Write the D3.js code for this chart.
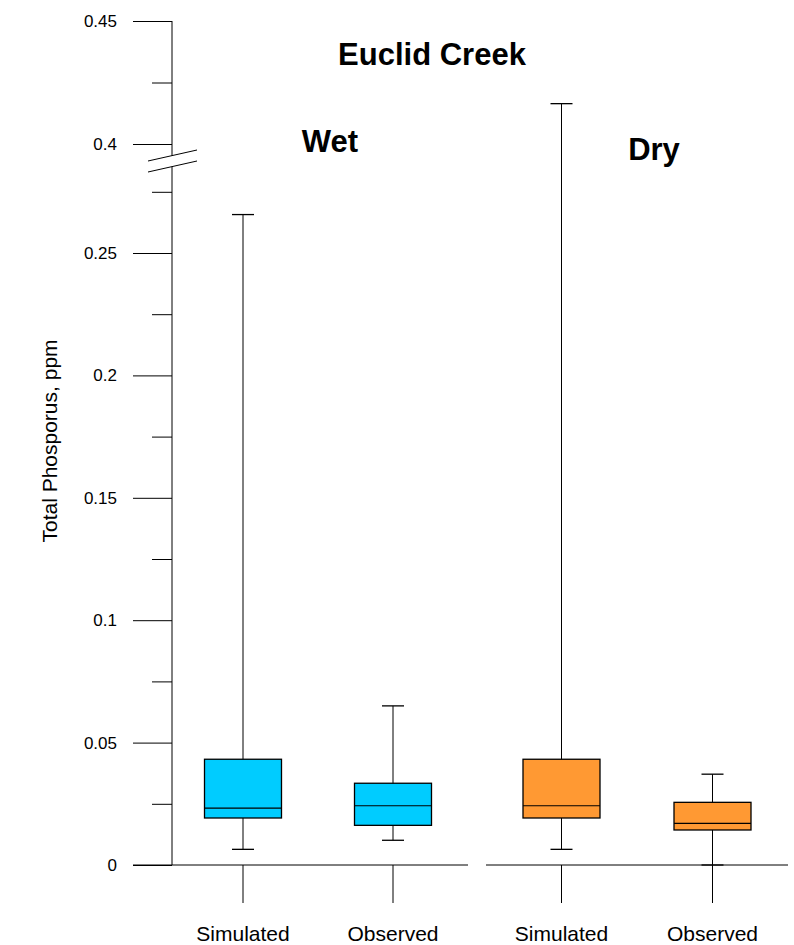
<!DOCTYPE html>
<html>
<head>
  <meta charset="UTF-8">
  <title>Euclid Creek</title>
  <style>
    body { margin: 0; background: #ffffff; }
    svg text { font-family: "Liberation Sans", Arial, sans-serif; fill: #000; }
  </style>
</head>
<body>
<svg></svg>
<script src="https://d3js.org/d3.v7.min.js"></script>
<script>

let width = 794, height = 945;

// data
let groups = ["Wet", "Dry"];
let types = ["Simulated", "Observed"];
let colors = {Wet: "#00ccff", Dry: "#ff9933"};
// box stats per group/type: min, q1, median, q3, max
let boxMin    = [0.0064, 0.0101, 0.0064, 0.0];
let boxQ1     = [0.0192, 0.0162, 0.0192, 0.0143];
let boxMedian = [0.0232, 0.0242, 0.0242, 0.0170];
let boxQ3     = [0.0432, 0.0334, 0.0432, 0.0256];
let boxMax    = [0.2657, 0.0650, 0.4164, 0.0371];

let lowerTicks = [0, 0.05, 0.1, 0.15, 0.2, 0.25];
let lowerMinor = [0.025, 0.075, 0.125, 0.175, 0.225, 0.275];
let upperTicks = [0.4, 0.45];
let upperMinor = [0.425];

let svg = d3.select("svg")
    .attr("width", width)
    .attr("height", height);

// broken y axis: two linear pieces
let breakLow = 0.29, breakHigh = 0.4;
let yLow = d3.scaleLinear().domain([0, breakLow]).range([865, 865 - breakLow * 2448]);
let yHigh = d3.scaleLinear().domain([0.4, 0.45]).range([144, 21]);
let y = v => v <= breakLow ? yLow(v) : yHigh(v);

let axisX = 172;
let panels = {Wet: [168, 468], Dry: [486, 788]};
let panelLine = {Wet: [133, 468], Dry: [486, 788]};

let boxes = [];
groups.forEach((g, gi) => {
  let xb = d3.scaleBand().domain(types).range(panels[g]);
  types.forEach((t, ti) => {
    let i = gi * 2 + ti;
    boxes.push({group: g, type: t, cx: xb(t) + xb.bandwidth() / 2,
      min: boxMin[i], q1: boxQ1[i], med: boxMedian[i], q3: boxQ3[i], max: boxMax[i]});
  });
});

// y axis ticks
function drawTicks(scale, major, minor) {
  svg.append("g")
      .attr("transform", "translate(" + axisX + ",0)")
      .call(d3.axisLeft(scale).tickValues(major).tickSize(39).tickPadding(16)
        .tickFormat(d => d3.format("")(d)))
      .call(g => g.select(".domain").remove())
      .call(g => g.selectAll("line").attr("stroke", "#000"))
      .call(g => g.selectAll("text").attr("font-size", 17).attr("font-family", "Liberation Sans, Arial, sans-serif"));
  svg.append("g")
      .attr("transform", "translate(" + axisX + ",0)")
      .call(d3.axisLeft(scale).tickValues(minor).tickSize(20).tickFormat(""))
      .call(g => g.select(".domain").remove())
      .call(g => g.selectAll("line").attr("stroke", "#000"));
}
drawTicks(yLow, lowerTicks, lowerMinor);
drawTicks(yHigh, upperTicks, upperMinor);

svg.append("line")
    .attr("x1", axisX).attr("x2", axisX)
    .attr("y1", y(0.45)).attr("y2", y(0))
    .attr("stroke", "#000");

// axis break marks
svg.append("polygon")
    .attr("points", "148,161 197,150 197,161 148,172")
    .attr("fill", "#fff");
[[148, 161, 197, 150], [148, 172, 197, 161]].forEach(p => {
  svg.append("line")
      .attr("x1", p[0]).attr("y1", p[1]).attr("x2", p[2]).attr("y2", p[3])
      .attr("stroke", "#000");
});

// x axis lines per panel
groups.forEach(g => {
  svg.append("line")
      .attr("x1", panelLine[g][0]).attr("x2", panelLine[g][1])
      .attr("y1", y(0)).attr("y2", y(0))
      .attr("stroke", "#000");
});

let boxW = 77, capW = 22;

let bx = svg.append("g").selectAll("g")
    .data(boxes)
    .enter()
    .append("g");

// tick below axis
bx.append("line")
    .attr("x1", d => d.cx).attr("x2", d => d.cx)
    .attr("y1", y(0)).attr("y2", y(0) + 38)
    .attr("stroke", "#000");

bx.append("text")
    .attr("x", d => d.cx)
    .attr("y", 941)
    .attr("text-anchor", "middle")
    .attr("font-size", 21)
    .text(d => d.type);

// whisker
bx.append("line")
    .attr("x1", d => d.cx).attr("x2", d => d.cx)
    .attr("y1", d => y(d.min)).attr("y2", d => y(d.max))
    .attr("stroke", "#000");
bx.selectAll(".cap")
    .data(d => [{cx: d.cx, v: d.min}, {cx: d.cx, v: d.max}])
    .enter()
    .append("line")
    .attr("class", "cap")
    .attr("x1", d => d.cx - capW / 2).attr("x2", d => d.cx + capW / 2)
    .attr("y1", d => y(d.v)).attr("y2", d => y(d.v))
    .attr("stroke", "#000")
    .attr("stroke-width", 1.3);

bx.append("rect")
    .attr("x", d => d.cx - boxW / 2)
    .attr("width", boxW)
    .attr("y", d => y(d.q3))
    .attr("height", d => y(d.q1) - y(d.q3))
    .attr("fill", d => colors[d.group])
    .attr("stroke", "#000")
    .attr("stroke-width", 1.3);

bx.append("line")
    .attr("x1", d => d.cx - boxW / 2).attr("x2", d => d.cx + boxW / 2)
    .attr("y1", d => y(d.med)).attr("y2", d => y(d.med))
    .attr("stroke", "#000")
    .attr("stroke-width", 1.2);

// titles
svg.append("text")
    .attr("x", 432).attr("y", 65)
    .attr("text-anchor", "middle")
    .attr("font-size", 31).attr("font-weight", "bold")
    .text("Euclid Creek");
svg.append("text")
    .attr("x", 330).attr("y", 152)
    .attr("text-anchor", "middle")
    .attr("font-size", 31).attr("font-weight", "bold")
    .text("Wet");
svg.append("text")
    .attr("x", 654).attr("y", 160)
    .attr("text-anchor", "middle")
    .attr("font-size", 31).attr("font-weight", "bold")
    .text("Dry");

svg.append("text")
    .attr("transform", "translate(51,441) rotate(-90)")
    .attr("text-anchor", "middle")
    .attr("dominant-baseline", "middle")
    .attr("font-size", 21)
    .text("Total Phosporus, ppm");

</script>
</body>
</html>
